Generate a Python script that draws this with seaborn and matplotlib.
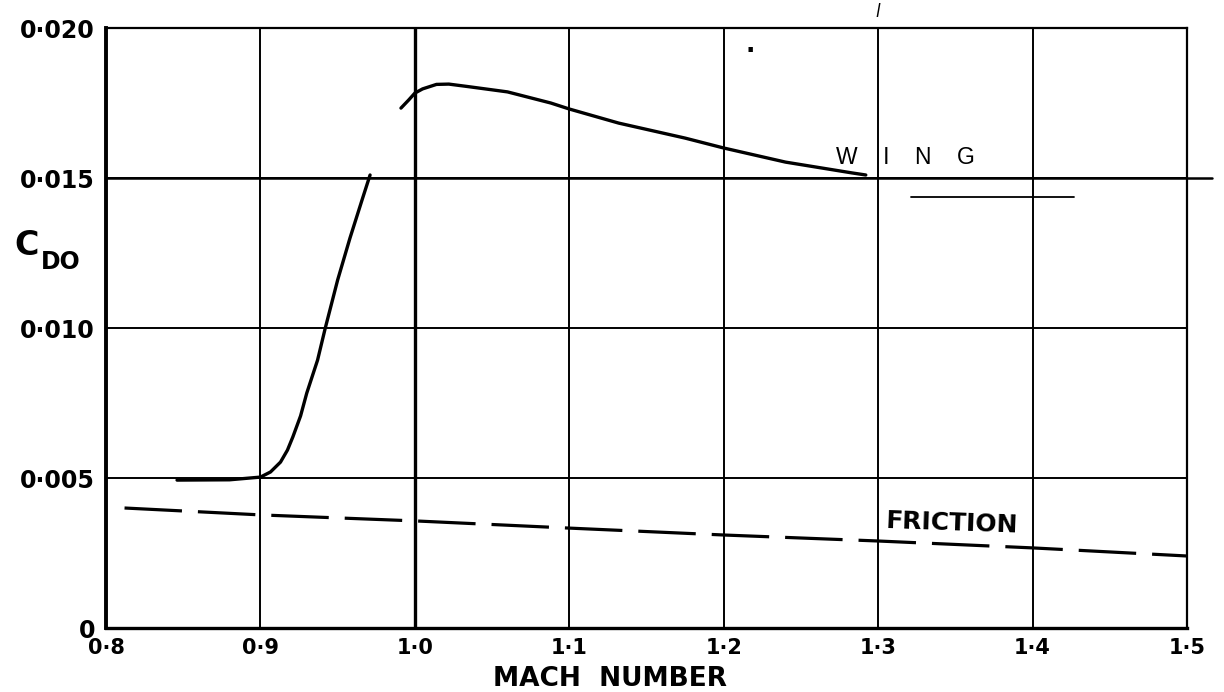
import matplotlib
matplotlib.use("Agg")
import matplotlib.pyplot as plt
import seaborn as sns

# wing drag, subsonic rise
mach_sub = [0.846, 0.880, 0.900, 0.9065, 0.913, 0.9175, 0.921, 0.926, 0.930, 0.937,
            0.942, 0.950, 0.958, 0.966, 0.971]
cd_sub = [0.00493, 0.00494, 0.00503, 0.0052, 0.00553, 0.00593, 0.00637, 0.00707,
          0.00783, 0.00893, 0.0100, 0.0116, 0.0130, 0.0143, 0.0151]

# wing drag, supersonic
mach_sup = [0.991, 0.996, 1.000, 1.005, 1.014, 1.022, 1.034, 1.060, 1.088, 1.100,
            1.132, 1.175, 1.200, 1.240, 1.283, 1.292]
cd_sup = [0.01733, 0.0176, 0.01783, 0.01797, 0.01812, 0.01813, 0.01805, 0.01787,
          0.0175, 0.0173, 0.01683, 0.01633, 0.0160, 0.01553, 0.01517, 0.0151]

# skin friction
mach_fr = [0.812, 0.9, 1.0, 1.1, 1.2, 1.3, 1.4, 1.5]
cd_fr = [0.0040, 0.00377, 0.00357, 0.00333, 0.0031, 0.0029, 0.00267, 0.0024]

# short rule under the WING label
rule_mach = [1.321, 1.427]
rule_cd = [0.01437, 0.01437]

xticks = [0.8, 0.9, 1.0, 1.1, 1.2, 1.3, 1.4, 1.5]
xticklabels = ["0·8", "0·9", "1·0", "1·1", "1·2", "1·3", "1·4", "1·5"]
yticks = [0, 0.005, 0.010, 0.015, 0.020]
yticklabels = ["0", "0·005", "0·010", "0·015", "0·020"]

sns.set_theme(style="white")
plt.rcParams["font.family"] = ["DejaVu Sans"]
plt.rcParams["text.color"] = "black"
plt.rcParams["xtick.color"] = "black"
plt.rcParams["ytick.color"] = "black"
plt.rcParams["axes.labelcolor"] = "black"

fig = plt.figure(figsize=(12.24, 6.92), dpi=100)
ax = fig.add_axes([106 / 1224, 1 - 628 / 692, 1081 / 1224, 600 / 692])

sns.lineplot(x=mach_sub, y=cd_sub, ax=ax, color="black", lw=2.4, sort=False, estimator=None)
sns.lineplot(x=mach_sup, y=cd_sup, ax=ax, color="black", lw=2.4, sort=False, estimator=None)
sns.lineplot(x=mach_fr, y=cd_fr, ax=ax, color="black", lw=2.3, sort=False, estimator=None,
             linestyle=(0, (18, 5)))
sns.lineplot(x=rule_mach, y=rule_cd, ax=ax, color="black", lw=1.3, sort=False, estimator=None)

ax.set_xlim(0.8, 1.5)
ax.set_ylim(0, 0.020)
ax.set_xticks(xticks)
ax.set_xticklabels(xticklabels, fontsize=15, fontweight="bold")
ax.set_yticks(yticks)
ax.set_yticklabels(yticklabels, fontsize=17, fontweight="bold")
ax.tick_params(axis="both", length=0)
ax.tick_params(axis="x", pad=7)
ax.tick_params(axis="y", pad=8)

ax.grid(True, color="black", lw=1.4)
ax.axvline(1.0, color="black", lw=2.4)
ax.axhline(0.015, xmin=0, xmax=1 + 25 / 1081, color="black", lw=1.8, clip_on=False)

for side, w in [("left", 2.8), ("bottom", 2.4), ("top", 1.6), ("right", 1.6)]:
    ax.spines[side].set_color("black")
    ax.spines[side].set_linewidth(w)

ax.set_xlabel("MACH  NUMBER", fontsize=19, fontweight="bold")
ax.xaxis.set_label_coords((610 - 106) / 1081, -0.064)
ax.xaxis.label.set_va("top")

ax.text(1.3175, 0.0157, "W    I    N    G", fontsize=16.5, family="Liberation Sans",
        ha="center", va="center")
ax.text(1.348, 0.0035, "FRICTION", fontsize=18, fontweight="bold",
        ha="center", va="center", rotation=-2)

# y-axis symbol
fig.text(27 / 1224, 1 - 245 / 692, "C", fontsize=24, fontweight="bold", ha="center", va="center")
fig.text(61 / 1224, 1 - 262 / 692, "DO", fontsize=17, fontweight="bold", ha="center", va="center")

# scan marks near the top
fig.text(878 / 1224, 1 - 12 / 692, "l", fontsize=12, style="italic", ha="center", va="center")
fig.text(750 / 1224, 1 - 45 / 692, ".", fontsize=18, fontweight="bold", ha="center", va="center")

fig.savefig("out.png", dpi=100)
